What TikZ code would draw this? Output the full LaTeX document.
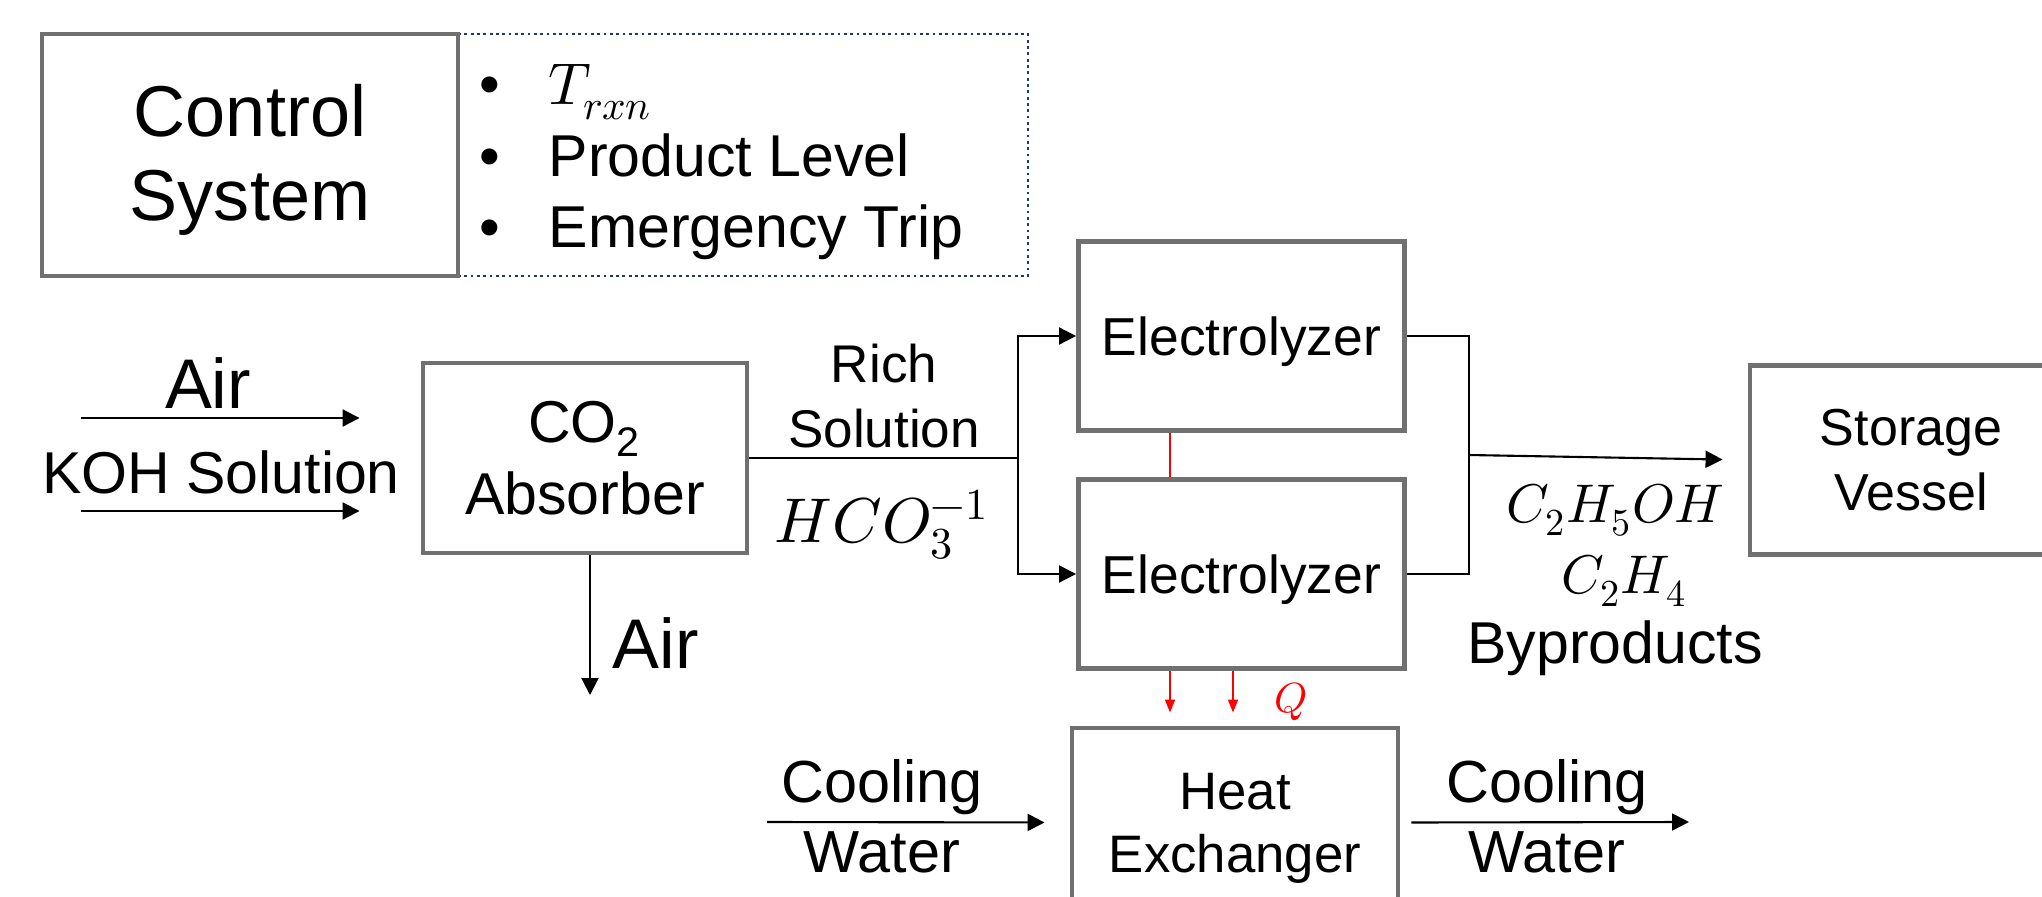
\documentclass[tikz,border=0pt]{standalone}
\usepackage{fontspec}
\usepackage{unicode-math}
\setmainfont{Liberation Sans}
\usetikzlibrary{arrows.meta}
\definecolor{boxgray}{RGB}{112,112,112}
\definecolor{listblue}{RGB}{31,56,100}
\newcommand{\fsz}[2]{\fontsize{#1}{#2}\selectfont}

\begin{document}
\begin{tikzpicture}[x=0.1mm,y=-0.1mm,
    unit/.style={draw=boxgray, line width=1.4pt, minimum width=32.6mm, minimum height=18.9mm, align=center, inner sep=0pt},
    flow/.style={line width=0.6pt, -{Triangle[length=1.7mm,width=1.7mm]}},
    heat/.style={red, line width=0.5pt, -{Triangle[length=1.3mm,width=1mm]}}]
  \useasboundingbox (0,0) rectangle (2042,897);

  % control system and its list
  \node[draw=listblue, densely dotted, line width=0.8pt, minimum width=57mm, minimum height=24.2mm] (params) at (743,155) {};
  \node[unit, minimum width=41.6mm, minimum height=24.2mm] (ctrl) at (250,155) {};
  \node[align=center, font=\fsz{20.5}{24}] (ctrltext) at (250,160) {Control\\System};
  \foreach \y/\t [count=\k] in {105/{$T_{rxn}$},176/Product Level,247/Emergency Trip} {
    \node[anchor=base, inner sep=0pt, font=\fsz{16.8}{20}] (dot\k) at (490,\y) {\textbullet};
    \node[anchor=base west, inner sep=0pt, font=\fsz{16.8}{20}] (item\k) at (548,\y) {\t};
  }

  % units
  \node[unit, minimum width=32.4mm, minimum height=19mm, font=\fsz{16.8}{20.5}] (absorber) at (585,458) {CO\textsubscript{2}\\Absorber};
  \node[unit, text depth=0pt, font=\fsz{15.2}{18}] (elec1) at (1241.5,336) {Electrolyzer};
  \node[unit, text depth=0pt, font=\fsz{15.2}{18}] (elec2) at (1241.5,574) {Electrolyzer};
  \node[unit, minimum width=32.2mm, font=\fsz{14.8}{18.6}] (storage) at (1911,460) {Storage\\Vessel};
  \node[unit] (hx) at (1235,822.5) {};
  \node[align=center, font=\fsz{15}{18}] (hxtext) at (1235,828) {Heat\\Exchanger};

  % feeds to absorber
  \coordinate (air0) at (81,418);
  \coordinate (koh0) at (81,511);
  \draw[flow, shorten >=6.1mm] (air0) -- (absorber.west |- air0);
  \draw[flow, shorten >=6.1mm] (koh0) -- (absorber.west |- koh0);
  \node[anchor=base, font=\fsz{20}{24}] (airlbl) at (208,408) {Air};
  \node[anchor=base, font=\fsz{16.8}{20}] (kohlbl) at (221,493) {KOH Solution};

  % vent
  \coordinate (vent) at (590,695);
  \draw[flow] (vent |- absorber.south) -- (vent);
  \node[anchor=base west, inner sep=0pt, font=\fsz{20}{24}] (ventlbl) at (612,668) {Air};

  % rich solution to electrolyzers
  \coordinate (split) at (1018,458);
  \draw[line width=0.6pt] (absorber.east |- split) -- (split);
  \draw[flow] (split) |- (elec1.west);
  \draw[flow] (split) |- (elec2.west);
  \node[align=center, font=\fsz{15.1}{18.4}] (richlbl) at (884,396) {Rich\\Solution};
  \node[anchor=base, font=\fsz{18}{22}] (hcolbl) at (882,542) {$HCO_3^{-1}$};

  % link between electrolyzers
  \coordinate (q1) at (1170,0);
  \coordinate (q2) at (1233,0);
  \draw[red, line width=0.5pt] (q1 |- elec1.south) -- (q1 |- elec2.north);

  % products
  \coordinate (merge) at (1469,455);
  \draw[line width=0.6pt] (elec1.east) -| (merge) |- (elec2.east);
  \draw[flow, shorten >=2.5mm] (merge) -- (storage.west);
  \node[anchor=base, font=\fsz{15.5}{19}] (prod1) at (1615,522) {$C_2H_5OH$};
  \node[anchor=base, font=\fsz{15.5}{19}] (prod2) at (1624,593) {$C_2H_4$};
  \node[anchor=base, font=\fsz{16.8}{20}] (prod3) at (1615,663) {Byproducts};

  % heat removal
  \draw[heat, shorten >=1.3mm] (q1 |- elec2.south) -- (q1 |- hx.north);
  \draw[heat, shorten >=1.3mm] (q2 |- elec2.south) -- (q2 |- hx.north);
  \node[anchor=base, red, font=\fsz{12}{14}] (qlbl) at (1291,712) {$Q$};

  % cooling water
  \coordinate (cw0) at (767,822);
  \coordinate (cw1) at (1689,822);
  \draw[flow, shorten >=2.5mm] (cw0) -- (hx.west);
  \draw[flow, shorten <=1.1mm] (hx.east) -- (cw1);
  \node[align=center, font=\fsz{16.9}{19.8}] (cwin) at (882,816) {Cooling\\Water};
  \node[align=center, font=\fsz{16.9}{19.8}] (cwout) at (1547,816) {Cooling\\Water};
\end{tikzpicture}
\end{document}
